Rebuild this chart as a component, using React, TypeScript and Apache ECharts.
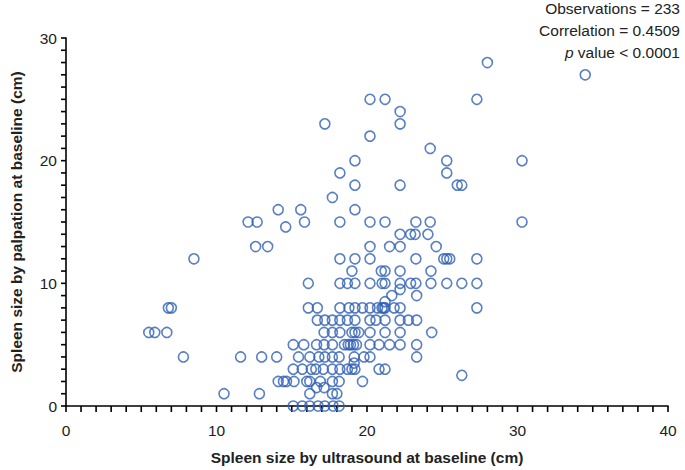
import React, { useEffect, useRef } from "react";
import * as echarts from "echarts";

// Each row: palpation value (cm) and the ultrasound values (cm) observed at that palpation value
const rowY: number[] = [0, 1, 1.5, 2, 2.5, 3, 3.5, 4, 5, 6, 7, 8, 8.5, 9, 9.5, 10, 11, 12, 13, 14, 14.6, 15, 16, 17, 18, 19, 20, 21, 22, 23, 24, 25, 27, 28];
const rowX: number[][] = [
  [15.1, 15.7, 16.2, 16.75, 17.2, 17.75, 18.15],
  [10.5, 12.85, 16.2, 17.7, 18.0],
  [16.65, 17.15],
  [14.1, 14.45, 14.65, 15.15, 16.0, 16.2, 16.9, 17.7, 18.15, 19.7],
  [26.3],
  [15.1, 15.7, 16.3, 16.6, 17.1, 17.7, 18.2, 18.7, 19.0, 19.2, 20.8, 21.2],
  [19.15],
  [7.8, 11.6, 13.0, 14.0, 15.45, 16.2, 16.8, 17.2, 17.7, 18.15, 19.15, 19.8, 20.2, 23.3],
  [15.1, 15.8, 16.65, 17.15, 17.7, 18.5, 18.75, 18.9, 19.1, 19.3, 20.2, 20.8, 21.5, 22.2, 23.3],
  [5.5, 5.9, 6.7, 17.15, 17.7, 18.2, 19.0, 19.2, 19.45, 20.2, 21.2, 22.2, 24.3],
  [16.7, 17.2, 17.7, 18.2, 18.7, 19.2, 20.2, 20.6, 21.2, 22.2, 22.75, 23.3],
  [6.8, 7.0, 16.1, 16.7, 18.2, 18.8, 19.2, 19.7, 20.2, 20.7, 21.0, 21.1, 21.2, 21.8, 22.2, 27.3],
  [21.2],
  [21.65, 23.3],
  [22.2],
  [16.1, 18.2, 18.7, 19.2, 20.2, 21.0, 21.2, 22.2, 22.9, 23.25, 24.25, 25.3, 26.3, 27.3],
  [19.0, 20.95, 21.2, 22.2, 24.25],
  [8.5, 18.2, 19.2, 20.2, 23.25, 25.1, 25.3, 25.5, 27.3],
  [12.6, 13.4, 20.2, 21.5, 22.2, 24.6],
  [22.2, 22.9, 23.2, 24.05],
  [14.6],
  [12.1, 12.7, 15.85, 18.2, 20.2, 21.2, 23.25, 24.2, 30.3],
  [14.1, 15.6, 19.2],
  [17.7],
  [19.2, 22.2, 26.0, 26.3],
  [18.2, 25.3],
  [19.2, 25.3, 30.3],
  [24.2],
  [20.2],
  [17.2, 22.2],
  [22.2],
  [20.2, 21.2, 27.3],
  [34.5],
  [28.0],
];

const xTicks = [0, 10, 20, 30, 40];
const yTicks = [0, 10, 20, 30];
const statLines = ["Observations = 233", "Correlation = 0.4509"];

export default function App() {
  const ref = useRef<HTMLDivElement>(null);
  useEffect(() => {
    if (!ref.current) return;
    const chart = echarts.init(ref.current, undefined, { renderer: "svg" });
    const data: number[][] = [];
    rowY.forEach((y, i) => rowX[i].forEach((x) => data.push([x, y])));
    const font = "'Liberation Sans', Arial, sans-serif";
    const xMax = xTicks[xTicks.length - 1];
    const yMax = yTicks[yTicks.length - 1];
    const xUnitTicks: number[][] = [];
    for (let v = 0; v <= xMax; v++) xUnitTicks.push([v, 0]);
    const yUnitTicks: number[][] = [];
    for (let v = 0; v <= yMax; v++) yUnitTicks.push([0, v]);
    const tickStyle = { stroke: "#000", lineWidth: 1.6 };
    chart.setOption({
      animation: false,
      grid: { left: 63, right: 17, top: 38, bottom: 56, containLabel: false },
      xAxis: {
        type: "value",
        min: xTicks[0],
        max: xMax,
        interval: 10,
        splitLine: { show: false },
        axisLine: { onZero: false, lineStyle: { color: "#000", width: 1.6 } },
        axisTick: { show: false },
        axisLabel: { fontSize: 15.5, color: "#222", fontFamily: font, margin: 16 },
        name: "Spleen size by ultrasound at baseline (cm)",
        nameLocation: "middle",
        nameGap: 43,
        nameTextStyle: { fontSize: 15.5, fontWeight: "bold", color: "#222", fontFamily: font },
      },
      yAxis: {
        type: "value",
        min: yTicks[0],
        max: yMax,
        interval: 10,
        splitLine: { show: false },
        axisLine: { onZero: false, lineStyle: { color: "#000", width: 1.6 } },
        axisTick: { show: false },
        axisLabel: { fontSize: 15.5, color: "#222", fontFamily: font, margin: 9 },
        name: "Spleen size by palpation at baseline (cm)",
        nameLocation: "middle",
        nameGap: 42,
        nameTextStyle: { fontSize: 15.5, fontWeight: "bold", color: "#222", fontFamily: font },
      },
      series: [
        {
          type: "custom",
          silent: true,
          clip: false,
          data: xUnitTicks,
          renderItem: (_p: any, api: any) => {
            const pt = api.coord([api.value(0), 0]);
            return { type: "line", shape: { x1: pt[0], y1: pt[1], x2: pt[0], y2: pt[1] + 6 }, style: tickStyle };
          },
        },
        {
          type: "custom",
          silent: true,
          clip: false,
          data: yUnitTicks,
          renderItem: (_p: any, api: any) => {
            const pt = api.coord([0, api.value(1)]);
            return { type: "line", shape: { x1: pt[0] - 5, y1: pt[1], x2: pt[0], y2: pt[1] }, style: tickStyle };
          },
        },
        {
          type: "scatter",
          data,
          symbol: "circle",
          symbolSize: 10,
          itemStyle: { color: "rgba(255,255,255,0)", borderColor: "#2f5fb5", borderWidth: 1.6 },
        },
      ],
      graphic: [
        {
          type: "text",
          right: 5,
          top: 0,
          style: { text: statLines[0], font: `15.5px ${font}`, fill: "#222", textAlign: "right" },
        },
        {
          type: "text",
          right: 5,
          top: 22,
          style: { text: statLines[1], font: `15.5px ${font}`, fill: "#222", textAlign: "right" },
        },
        {
          type: "text",
          right: 5,
          top: 44,
          style: {
            text: "{i|p} value < 0.0001",
            font: `15.5px ${font}`,
            fill: "#222",
            rich: { i: { fontStyle: "italic", fontSize: 15.5, fontFamily: font, fill: "#222" } },
          },
        },
      ],
    });
    return () => chart.dispose();
  }, []);
  return <div ref={ref} style={{ width: 685, height: 470, position: "absolute", left: 0, top: 0 }} />;
}
